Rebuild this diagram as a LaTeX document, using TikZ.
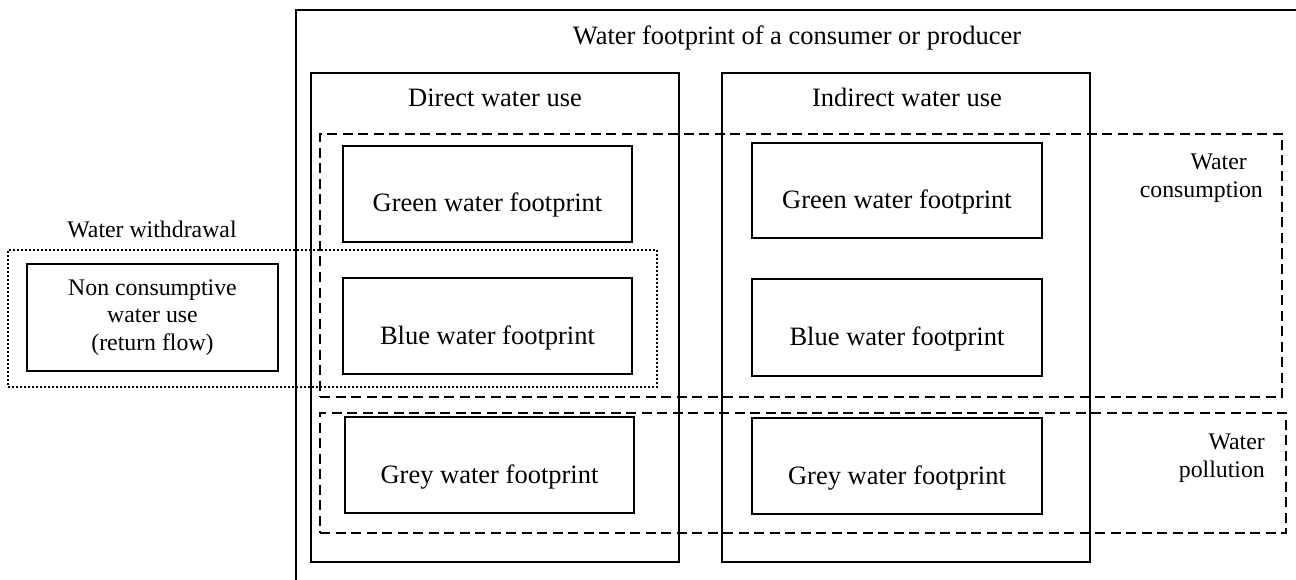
\documentclass[tikz,border=0pt]{standalone}
\usepackage{fontspec}
\setmainfont{Liberation Serif}
\begin{document}
\begin{tikzpicture}[x=1pt,y=-1pt,
  bigfont/.style={font=\fontsize{26.5}{30}\selectfont},
  smallfont/.style={font=\fontsize{23.8}{27.5}\selectfont},
  solidbox/.style={draw, line width=2pt, inner sep=0pt},
  fpbox/.style={solidbox, bigfont, text height=42pt, text depth=6pt},
  dashbox/.style={draw, line width=2pt, dash pattern=on 10pt off 5.5pt, inner sep=0pt},
  dotbox/.style={draw, line width=1.8pt, dash pattern=on 2pt off 2pt, inner sep=0pt},
  lbl/.style={inner sep=0pt, anchor=base, bigfont},
  sidelbl/.style={inner sep=0pt, smallfont, align=right, anchor=east}
]
\useasboundingbox (0,0) rectangle (1296,580);

% outer frame (cut by the picture edge on the right and bottom)
\draw[line width=2.6pt] (296,580) -- (296,10) -- (1296,10);
\node[lbl] (title) at (797,45) {Water footprint of a consumer or producer};

% direct / indirect columns
\node[solidbox, minimum width=368pt, minimum height=489pt] (direct) at (495,317.5) {};
\node[solidbox, minimum width=368pt, minimum height=489pt] (indirect) at (906,317.5) {};
\node[lbl] (directlbl) at (495,107) {Direct water use};
\node[lbl] (indirectlbl) at (907,107) {Indirect water use};

% consumption / pollution / withdrawal groups
\node[dashbox, minimum width=962pt, minimum height=263pt] (cons) at (801,265.5) {};
\node[dashbox, minimum width=966pt, minimum height=120pt] (poll) at (803,473) {};
\node[dotbox, minimum width=649pt, minimum height=137pt] (withdr) at (332.5,318.5) {};

\node[sidelbl] (conslbl) at (1263,178) {Water\hspace*{16pt}\\consumption};
\node[sidelbl] (polllbl) at (1265,458) {Water\\pollution};
\node[lbl, smallfont] (withdrlbl) at (152,237) {Water withdrawal};

% footprint boxes
\node[fpbox, minimum width=289pt, minimum height=96pt] (gd) at (487.5,194) {Green water footprint};
\node[fpbox, minimum width=289pt, minimum height=96pt] (bd) at (487.5,326) {Blue water footprint};
\node[fpbox, minimum width=289pt, minimum height=96pt] (yd) at (489.5,465) {Grey water footprint};
\node[fpbox, minimum width=290pt, minimum height=95pt] (gi) at (897,190.5) {Green water footprint};
\node[fpbox, minimum width=290pt, minimum height=97pt] (bi) at (897,327.5) {Blue water footprint};
\node[fpbox, minimum width=290pt, minimum height=96pt] (yi) at (897,466) {Grey water footprint};

% non consumptive use
\node[solidbox, smallfont, align=center, minimum width=251pt, minimum height=107pt] (nc) at (152.5,317.5)
  {Non consumptive\\water use\\(return flow)};
\end{tikzpicture}
\end{document}
